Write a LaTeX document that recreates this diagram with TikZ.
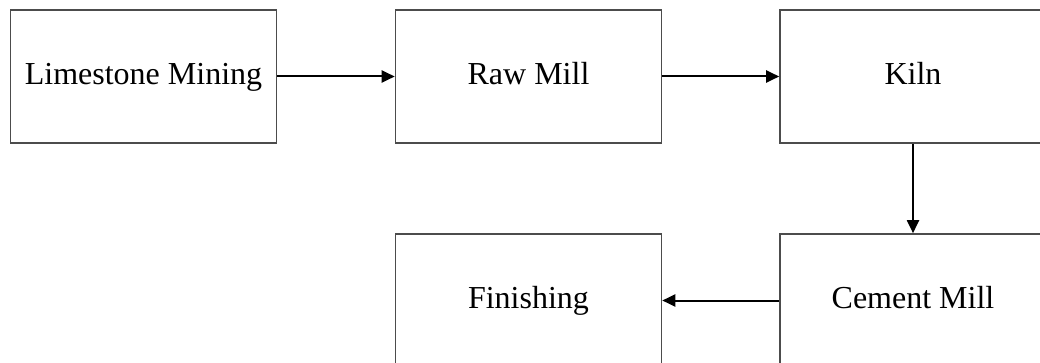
\documentclass[tikz,border=0pt]{standalone}
\usepackage{fontspec}
\setmainfont{Liberation Serif}
\usetikzlibrary{arrows.meta}
\tikzset{
  stage/.style={draw=black!70, line width=1.6pt, fill=white, minimum width=266pt,
    minimum height=133pt, inner sep=0pt, text height=21pt, text depth=5pt,
    font=\fontsize{32}{38}\selectfont},
  flow/.style={draw=black, line width=2pt, -{Triangle[length=13pt,width=12pt]}}
}
\begin{document}
\begin{tikzpicture}[x=1pt,y=-1pt]
  \clip (0,0) rectangle (1040,363);
  \fill[white] (0,0) rectangle (1040,363);
  \node[stage] (mine)   at (143.5,76.5)  {Limestone Mining};
  \node[stage] (raw)    at (528.5,76.5)  {Raw Mill};
  \node[stage] (kiln)   at (913,76.5)    {Kiln};
  \node[stage] (cement) at (913,300.5)   {Cement Mill};
  \node[stage] (finish) at (528.5,300.5) {Finishing};
  \draw[flow] (mine) -- (raw);
  \draw[flow] (raw) -- (kiln);
  \draw[flow] (kiln) -- (cement);
  \draw[flow] (cement) -- (finish);
\end{tikzpicture}
\end{document}
